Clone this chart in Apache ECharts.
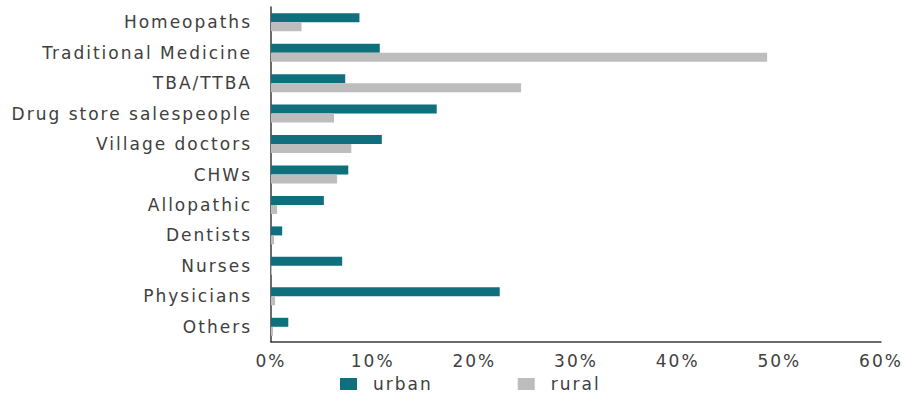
<!DOCTYPE html>
<html>
<head>
<meta charset="utf-8">
<script src="https://cdn.jsdelivr.net/npm/echarts@6/dist/echarts.min.js"></script>
<style>
  html, body { margin: 0; padding: 0; background: #ffffff; }
  /* wide tracking for every label drawn by the SVG renderer */
  #chart { width: 906px; height: 396px; letter-spacing: 2px; }
</style>
</head>
<body>
<div id="chart"></div>
<script>
const categories = [
  'Homeopaths', 'Traditional Medicine', 'TBA/TTBA', 'Drug store salespeople',
  'Village doctors', 'CHWs', 'Allopathic', 'Dentists', 'Nurses', 'Physicians', 'Others'
];
const urban = [8.7, 10.7, 7.3, 16.3, 10.9, 7.6, 5.2, 1.1, 7.0, 22.5, 1.7];
const rural = [3.0, 48.8, 24.6, 6.2, 7.9, 6.5, 0.6, 0.3, 0.1, 0.4, 0.2];
const xTicks = [0, 10, 20, 30, 40, 50, 60];

const FONT = 'DejaVu Sans';
const TEXT = '#404040';

const chart = echarts.init(document.getElementById('chart'), null, { renderer: 'svg' });
chart.setOption({
  animation: false,
  grid: { left: 271, right: 25, top: 7, bottom: 54, containLabel: false },
  legend: {
    left: 340,
    top: 375,
    padding: 0,
    itemWidth: 17,
    itemHeight: 12,
    itemGap: 95,
    icon: 'rect',
    textStyle: { fontFamily: FONT, fontSize: 17, lineHeight: 18, color: TEXT, padding: [0, 0, 0, 11] },
    data: ['urban', 'rural']
  },
  xAxis: {
    type: 'value',
    min: xTicks[0],
    max: xTicks[xTicks.length - 1],
    interval: 10,
    splitLine: { show: false },
    axisTick: { show: false },
    axisLine: { show: true, lineStyle: { color: '#3a3a3a', width: 1.5 } },
    axisLabel: {
      margin: 10,
      fontFamily: FONT, fontSize: 17, color: TEXT,
      formatter: v => v + '%'
    }
  },
  yAxis: {
    type: 'category',
    inverse: true,
    data: categories,
    axisTick: { show: false },
    axisLine: { show: true, lineStyle: { color: '#3a3a3a', width: 1.5 } },
    axisLabel: { margin: 19, fontFamily: FONT, fontSize: 17, color: TEXT }
  },
  series: [
    {
      name: 'urban', type: 'bar', data: urban,
      barWidth: 9, barGap: '0%',
      itemStyle: { color: '#0f6f7d' }
    },
    {
      name: 'rural', type: 'bar', data: rural,
      barWidth: 9, barGap: '0%',
      itemStyle: { color: '#bdbdbd' }
    }
  ]
});
</script>
</body>
</html>
